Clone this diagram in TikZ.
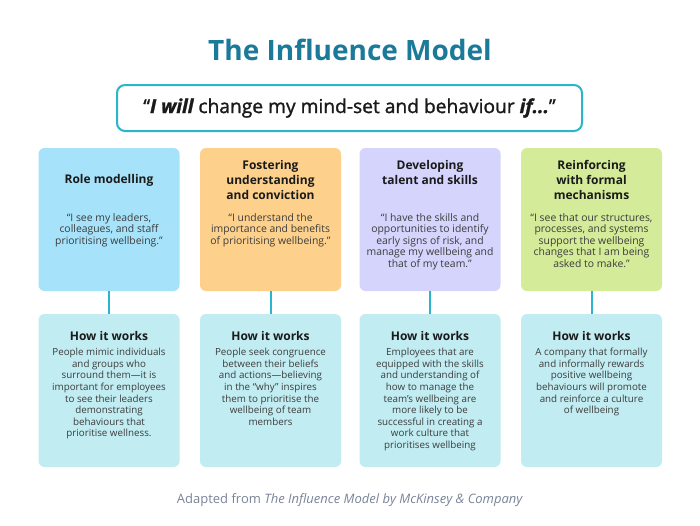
\documentclass[tikz,border=0pt]{standalone}
\usepackage{fontspec}
\setmainfont{Open Sans}
\newfontfamily\medfont[FakeBold=1.4]{Open Sans}
\definecolor{titleblue}{HTML}{1B7A99}
\definecolor{teal}{HTML}{2BB5CC}
\definecolor{cblue}{HTML}{A6E3FB}
\definecolor{corange}{HTML}{FDD18C}
\definecolor{cpurple}{HTML}{D4D4FD}
\definecolor{cgreen}{HTML}{D4EC99}
\definecolor{ccyan}{HTML}{C1ECF1}
\definecolor{txt}{HTML}{1A1A1A}
\definecolor{foot}{HTML}{7A8499}
\begin{document}
\begin{tikzpicture}[x=1pt,y=-1pt,
  card/.style={rounded corners=6pt, minimum width=141pt, inner sep=0pt},
  topcard/.style={card, minimum height=143pt},
  botcard/.style={card, fill=ccyan, minimum height=153pt},
  heading/.style={anchor=north, align=center, inner sep=0pt, text=txt,
    font=\fontsize{12}{15}\selectfont\bfseries},
  quote/.style={anchor=north, align=center, inner sep=0pt, text=txt!85,
    font=\fontsize{10.4}{11.6}\selectfont},
  body/.style={quote, font=\fontsize{9.8}{11.6}\selectfont},
  link/.style={draw=teal, line width=2pt}]
\useasboundingbox (0,0) rectangle (700,525);
\fill[white] (0,0) rectangle (700,525);
% title
\node[text=titleblue, font=\fontsize{28}{32}\selectfont\bfseries] (title) at (350,50) {The Influence Model};
% banner
\node[draw=teal, line width=2pt, rounded corners=8pt, minimum width=465pt, minimum height=46pt, inner sep=0pt] (banner) at (349.5,108) {};
\node[font=\fontsize{19.2}{22}\selectfont\medfont, text=txt] (bannertext) at (349.5,108) {“{\bfseries\itshape I will} change my mind-set and behaviour {\bfseries\itshape if...}”};
% top cards
\node[topcard, fill=cblue] (top1) at (109,219.5) {};
\node[topcard, fill=corange] (top2) at (270.5,219.5) {};
\node[topcard, fill=cpurple] (top3) at (430,219.5) {};
\node[topcard, fill=cgreen] (top4) at (591.5,219.5) {};
% bottom cards
\node[botcard] (bot1) at (109,390.5) {};
\node[botcard] (bot2) at (270.5,390.5) {};
\node[botcard] (bot3) at (430,390.5) {};
\node[botcard] (bot4) at (591.5,390.5) {};
% connectors
\draw[link] (top1.south) -- (bot1.north);
\draw[link] (top2.south) -- (bot2.north);
\draw[link] (top3.south) -- (bot3.north);
\draw[link] (top4.south) -- (bot4.north);
% top headings
\node[heading] (t1) at (109,174) {Role modelling};
\node[heading] (t2) at (270.5,160) {Fostering\\understanding\\and conviction};
\node[heading] (t3) at (430,160) {Developing\\talent and skills};
\node[heading] (t4) at (591.5,160) {Reinforcing\\with formal\\mechanisms};
% quotes
\node[quote] (q1) at (109,213) {“I see my leaders,\\colleagues, and staff\\prioritising wellbeing.”};
\node[quote] (q2) at (270.5,213) {“I understand the\\importance and benefits\\of prioritising wellbeing.”};
\node[quote] (q3) at (430,213) {“I have the skills and\\opportunities to identify\\early signs of risk, and\\manage my wellbeing and\\that of my team.”};
\node[quote] (q4) at (591.5,213) {“I see that our structures,\\processes, and systems\\support the wellbeing\\changes that I am being\\asked to make.”};
% bottom headings
\node[heading] (h1) at (109,331.5) {How it works};
\node[heading] (h2) at (270.5,331.5) {How it works};
\node[heading] (h3) at (430,331.5) {How it works};
\node[heading] (h4) at (591.5,331.5) {How it works};
% bottom bodies
\node[body] (b1) at (109,348) {People mimic individuals\\and groups who\\surround them—it is\\important for employees\\to see their leaders\\demonstrating\\behaviours that\\prioritise wellness.};
\node[body] (b2) at (270.5,348) {People seek congruence\\between their beliefs\\and actions—believing\\in the “why” inspires\\them to prioritise the\\wellbeing of team\\members};
\node[body] (b3) at (430,348) {Employees that are\\equipped with the skills\\and understanding of\\how to manage the\\team's wellbeing are\\more likely to be\\successful in creating a\\work culture that\\prioritises wellbeing};
\node[body] (b4) at (591.5,348) {A company that formally\\and informally rewards\\positive wellbeing\\behaviours will promote\\and reinforce a culture\\of wellbeing};
% footer
\node[text=foot, font=\fontsize{13}{15}\selectfont] (footer) at (350,500) {Adapted from \textit{The Influence Model by McKinsey \& Company}};
\end{tikzpicture}
\end{document}
